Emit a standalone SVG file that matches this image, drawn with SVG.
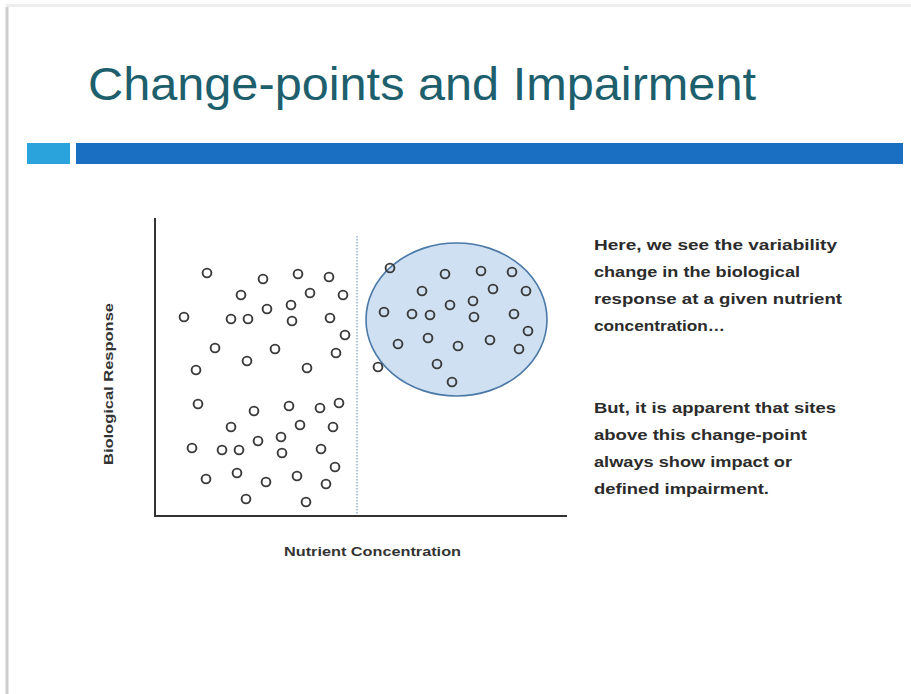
<svg xmlns="http://www.w3.org/2000/svg" width="911" height="694" viewBox="0 0 911 694">
<style>
.pt{fill:none;stroke:#3a3a3a;stroke-width:1.9}
.body{font-family:"Liberation Sans",Arial,sans-serif;font-size:15.5px;font-weight:bold;fill:#2b2b2b}
.axis{font-family:"Liberation Sans",Arial,sans-serif;font-size:12.5px;font-weight:bold;fill:#333}
</style>
<defs><circle id="d" r="4.4" class="pt"/></defs>
<rect width="911" height="694" fill="#fff"/>
<g id="frame">
<line x1="6" y1="5.5" x2="911" y2="5.5" stroke="#eeeeee" stroke-width="3"/>
<line x1="7" y1="7" x2="7" y2="694" stroke="#cfcfcf" stroke-width="3"/>
</g>
<g id="title">
<text x="88" y="100" font-family="'Liberation Sans',Arial,sans-serif" font-size="47" fill="#1d5f6d" textLength="668" lengthAdjust="spacingAndGlyphs">Change-points and Impairment</text>
</g>
<g id="bar">
<rect x="27" y="143" width="43" height="21" fill="#2aa3dc"/>
<rect x="76" y="143" width="827" height="21" fill="#1b6fc3"/>
</g>
<g id="plot">
<ellipse cx="456.5" cy="319.5" rx="90.5" ry="76.5" fill="#cfe0f2" stroke="#4b78a6" stroke-width="1.6"/>
<line x1="357" y1="236" x2="357" y2="516" stroke="#7a9cc0" stroke-width="1.2" stroke-dasharray="1.5,1.5"/>
<polyline points="155,218 155,516 567,516" fill="none" stroke="#333" stroke-width="2"/>
<g id="left-points">
<use href="#d" x="207" y="273"/><use href="#d" x="263" y="279"/><use href="#d" x="298" y="274"/><use href="#d" x="329" y="277"/>
<use href="#d" x="241" y="295"/><use href="#d" x="310" y="293"/><use href="#d" x="343" y="295"/><use href="#d" x="267" y="309"/>
<use href="#d" x="291" y="305"/><use href="#d" x="184" y="317"/><use href="#d" x="231" y="319"/><use href="#d" x="248" y="319"/>
<use href="#d" x="292" y="321"/><use href="#d" x="330" y="318"/><use href="#d" x="345" y="335"/><use href="#d" x="215" y="348"/>
<use href="#d" x="275" y="349"/><use href="#d" x="336" y="353"/><use href="#d" x="247" y="361"/><use href="#d" x="196" y="370"/>
<use href="#d" x="307" y="368"/>
<use href="#d" x="198" y="404"/><use href="#d" x="254" y="411"/><use href="#d" x="289" y="406"/><use href="#d" x="320" y="408"/>
<use href="#d" x="339" y="403"/><use href="#d" x="231" y="427"/><use href="#d" x="300" y="425"/><use href="#d" x="333" y="427"/>
<use href="#d" x="281" y="437"/><use href="#d" x="258" y="441"/><use href="#d" x="192" y="448"/><use href="#d" x="222" y="450"/>
<use href="#d" x="239" y="450"/><use href="#d" x="282" y="453"/><use href="#d" x="321" y="449"/><use href="#d" x="335" y="467"/>
<use href="#d" x="237" y="473"/><use href="#d" x="206" y="479"/><use href="#d" x="266" y="482"/><use href="#d" x="297" y="476"/>
<use href="#d" x="326" y="484"/><use href="#d" x="246" y="499"/><use href="#d" x="306" y="502"/>
</g>
<g id="right-points">
<use href="#d" x="390" y="268"/><use href="#d" x="445" y="274"/><use href="#d" x="481" y="271"/><use href="#d" x="512" y="272"/>
<use href="#d" x="422" y="291"/><use href="#d" x="493" y="289"/><use href="#d" x="526" y="291"/><use href="#d" x="450" y="305"/>
<use href="#d" x="473" y="301"/><use href="#d" x="384" y="312"/><use href="#d" x="412" y="314"/><use href="#d" x="430" y="315"/>
<use href="#d" x="474" y="317"/><use href="#d" x="514" y="314"/><use href="#d" x="528" y="331"/><use href="#d" x="398" y="344"/>
<use href="#d" x="428" y="338"/><use href="#d" x="458" y="346"/><use href="#d" x="490" y="340"/><use href="#d" x="519" y="349"/>
<use href="#d" x="378" y="367"/><use href="#d" x="437" y="364"/><use href="#d" x="452" y="382"/>
</g>
<text class="axis" x="284" y="556" textLength="177" lengthAdjust="spacingAndGlyphs">Nutrient Concentration</text>
<text class="axis" transform="translate(113,465) rotate(-90)" x="0" y="0" textLength="162" lengthAdjust="spacingAndGlyphs">Biological Response</text>
</g>
<g id="text1">
<text class="body" x="594" y="250" textLength="243" lengthAdjust="spacingAndGlyphs">Here, we see the variability</text>
<text class="body" x="594" y="277" textLength="206" lengthAdjust="spacingAndGlyphs">change in the biological</text>
<text class="body" x="594" y="304" textLength="248" lengthAdjust="spacingAndGlyphs">response at a given nutrient</text>
<text class="body" x="594" y="331" textLength="131" lengthAdjust="spacingAndGlyphs">concentration…</text>
</g>
<g id="text2">
<text class="body" x="594" y="413" textLength="242" lengthAdjust="spacingAndGlyphs">But, it is apparent that sites</text>
<text class="body" x="594" y="440" textLength="213" lengthAdjust="spacingAndGlyphs">above this change-point</text>
<text class="body" x="594" y="467" textLength="198" lengthAdjust="spacingAndGlyphs">always show impact or</text>
<text class="body" x="594" y="494" textLength="175" lengthAdjust="spacingAndGlyphs">defined impairment.</text>
</g>
</svg>
